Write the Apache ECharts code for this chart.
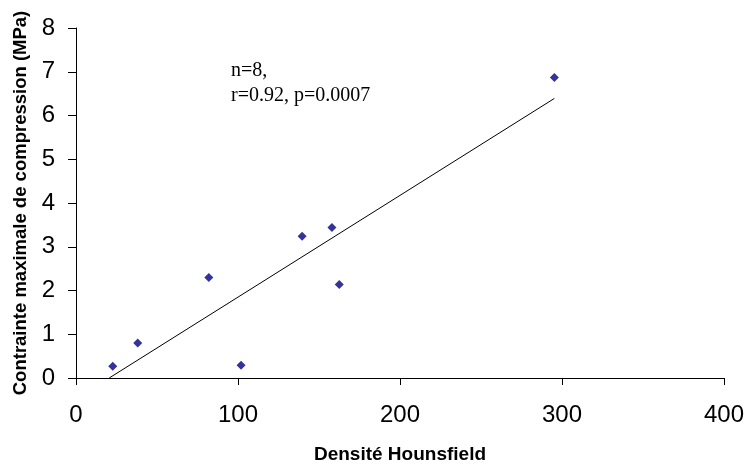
<!DOCTYPE html>
<html><head><meta charset="utf-8">
<script src="https://cdn.jsdelivr.net/npm/echarts@6/dist/echarts.min.js"></script>
<style>html,body{margin:0;padding:0;background:#fff}#c{width:747px;height:469px}</style>
</head><body><div id="c"></div>
<script>
const densite = [22.7, 38.1, 82.0, 101.9, 139.6, 158.0, 162.5, 295.3];
const contrainte = [0.27, 0.80, 2.30, 0.29, 3.24, 3.44, 2.14, 6.87];
const trendX = [20.5, 295.3];
const trendY = [0.0, 6.39];
const xTicks = [0, 100, 200, 300, 400];
const yTicks = [0, 1, 2, 3, 4, 5, 6, 7, 8];
const annotation = ['n=8,', 'r=0.92, p=0.0007'];

const chart = echarts.init(document.getElementById('c'));
chart.setOption({
  animation: false,
  backgroundColor: '#fff',
  grid: { left: 76, right: 22, top: 28, bottom: 86, containLabel: false },
  xAxis: {
    type: 'value', min: xTicks[0], max: xTicks[xTicks.length-1], interval: 100,
    name: 'Densité Hounsfield', nameLocation: 'middle', nameGap: 67,
    nameTextStyle: { fontFamily: 'Liberation Sans, Arial', fontWeight: 'bold', fontSize: 19, color: '#000' },
    axisLine: { show: true, lineStyle: { color: '#000', width: 1 } },
    axisTick: { show: true, inside: false, length: 7, lineStyle: { color: '#000' } },
    axisLabel: { fontFamily: 'Liberation Sans, Arial', fontSize: 24, color: '#000', margin: 25 },
    splitLine: { show: false }
  },
  yAxis: {
    type: 'value', min: yTicks[0], max: yTicks[yTicks.length-1], interval: 1,
    name: 'Contrainte maximale de compression (MPa)', nameLocation: 'middle', nameGap: 45,
    nameTextStyle: { fontFamily: 'Liberation Sans, Arial', fontWeight: 'bold', fontSize: 18.5, color: '#000' },
    axisLine: { show: true, lineStyle: { color: '#000', width: 1 } },
    axisTick: { show: true, inside: false, length: 8, lineStyle: { color: '#000' } },
    axisLabel: { fontFamily: 'Liberation Sans, Arial', fontSize: 24, color: '#000', margin: 21 },
    splitLine: { show: false }
  },
  graphic: [{
    type: 'text', left: 231, top: 58,
    style: { text: annotation.join('\n'), font: '20px "Liberation Serif", "Times New Roman", serif', fill: '#000', lineHeight: 25 }
  }],
  series: [
    {
      type: 'line', data: trendX.map((x, i) => [x, trendY[i]]), showSymbol: false, symbol: 'none',
      lineStyle: { color: '#000', width: 1 }, silent: true, z: 1
    },
    {
      type: 'scatter', data: densite.map((x, i) => [x, contrainte[i]]),
      symbol: 'diamond', symbolSize: 9, itemStyle: { color: '#000080' }, z: 2
    }
  ]
});
</script></body></html>
